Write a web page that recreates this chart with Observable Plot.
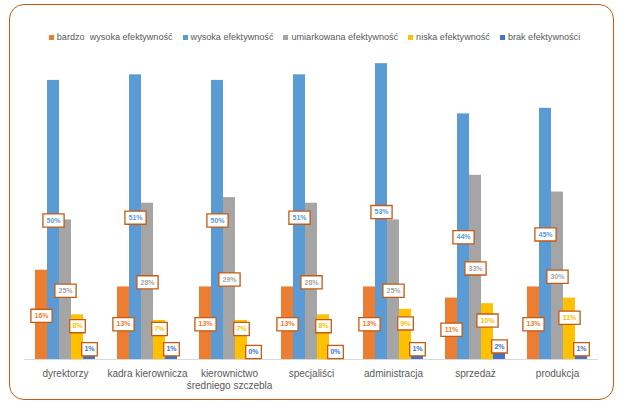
<!DOCTYPE html>
<html>
<head>
<meta charset="utf-8">
<script src="https://cdn.jsdelivr.net/npm/d3@7"></script>
<script src="https://cdn.jsdelivr.net/npm/@observablehq/plot@0.6"></script>
<style>
  html, body { margin: 0; padding: 0; background: #fff; }
  #wrap { position: relative; width: 629px; height: 405px; overflow: hidden; font-family: "Liberation Sans", Arial, sans-serif; }
  #frame { position: absolute; left: 9px; top: 4px; width: 603px; height: 394px; border: 1.5px solid #C55A11; border-radius: 15px; }
  #legend { position: absolute; left: 0; top: 31px; width: 629px; height: 12px; display: flex; justify-content: center; align-items: center; font-size: 9.1px; color: #595959; line-height: 12px; }
  #legend .item { display: flex; align-items: center; margin: 0 5px; white-space: pre; }
  #legend .sw { width: 5px; height: 5px; margin-right: 3px; display: inline-block; }
  #chart { position: absolute; left: 0; top: 50px; }
</style>
</head>
<body>
<div id="wrap">
  <div id="frame"></div>
  <div id="legend"></div>
  <div id="chart"></div>
</div>
<script>
const categories = ["dyrektorzy", "kadra kierownicza", "kierownictwo średniego szczebla", "specjaliści", "administracja", "sprzedaż", "produkcja"];
const tickLabels = ["dyrektorzy", "kadra kierownicza", "kierownictwo\nśredniego szczebla", "specjaliści", "administracja", "sprzedaż", "produkcja"];
const series = ["bardzo  wysoka efektywność", "wysoka efektywność", "umiarkowana efektywność", "niska efektywność", "brak efektywności"];
const bardzoWysoka = [16, 13, 13, 13, 13, 11, 13];
const wysoka       = [50, 51, 50, 51, 53, 44, 45];
const umiarkowana  = [25, 28, 29, 28, 25, 33, 30];
const niska        = [8, 7, 7, 8, 9, 10, 11];
const brak         = [1, 1, 0, 0, 1, 2, 1];
const colors = ["#ED7D31", "#5B9BD5", "#A5A5A5", "#FFC000", "#4472C4"];

const valuesBySeries = [bardzoWysoka, wysoka, umiarkowana, niska, brak];
const data = categories.flatMap((c, i) => series.map((s, j) => ({cat: c, series: s, value: valuesBySeries[j][i]})));

// legend
const legend = document.getElementById("legend");
series.forEach((s, j) => {
  const it = document.createElement("div");
  it.className = "item";
  const sw = document.createElement("span");
  sw.className = "sw";
  sw.style.background = colors[j];
  const tx = document.createElement("span");
  tx.textContent = s;
  it.appendChild(sw); it.appendChild(tx);
  legend.appendChild(it);
});

const labelDy = [1, 0.5, 1, -11, -7.5];
const wideBox = {draw(ctx) { ctx.rect(-10.6, -6.6, 21.2, 13.2); }};
const narrowBox = {draw(ctx) { ctx.rect(-7.8, -6.6, 15.6, 13.2); }};

const labelMarks = series.flatMap((s, j) => [
  Plot.dot(data, {filter: d => d.series === s && d.value >= 10, fx: "cat", x: "series", y: d => d.value / 2,
    symbol: wideBox, fill: "white", stroke: "#C55A11", strokeWidth: 1.3, dy: labelDy[j]}),
  Plot.dot(data, {filter: d => d.series === s && d.value < 10, fx: "cat", x: "series", y: d => d.value / 2,
    symbol: narrowBox, fill: "white", stroke: "#C55A11", strokeWidth: 1.3, dy: labelDy[j]}),
  Plot.text(data, {filter: d => d.series === s, fx: "cat", x: "series", y: d => d.value / 2,
    text: d => d.value + "%", fill: colors[j], fontSize: 7, fontWeight: "bold", dy: labelDy[j]})
]);

const chart = Plot.plot({
  width: 629,
  height: 350,
  marginLeft: 24,
  marginRight: 31,
  marginTop: 2,
  marginBottom: 41,
  style: {fontFamily: "Liberation Sans, Arial, sans-serif", background: "transparent", overflow: "visible"},
  fx: {domain: categories, paddingInner: 22 / 82, paddingOuter: 11 / 82, label: null},
  x: {domain: series, padding: 0, axis: null},
  y: {domain: [0, 55], axis: null},
  color: {domain: series, range: colors},
  marks: [
    Plot.ruleY([0], {stroke: "#D9D9D9", strokeWidth: 1, insetLeft: -11, insetRight: -11}),
    Plot.barY(data, {fx: "cat", x: "series", y: "value", fill: "series"}),
    ...labelMarks,
    Plot.axisFx({anchor: "bottom", tickSize: 0, tickPadding: 9, fontSize: 10, fill: "#595959", lineHeight: 1.2,
      label: null, tickFormat: d => tickLabels[categories.indexOf(d)]})
  ]
});
document.getElementById("chart").appendChild(chart);
</script>
</body>
</html>
